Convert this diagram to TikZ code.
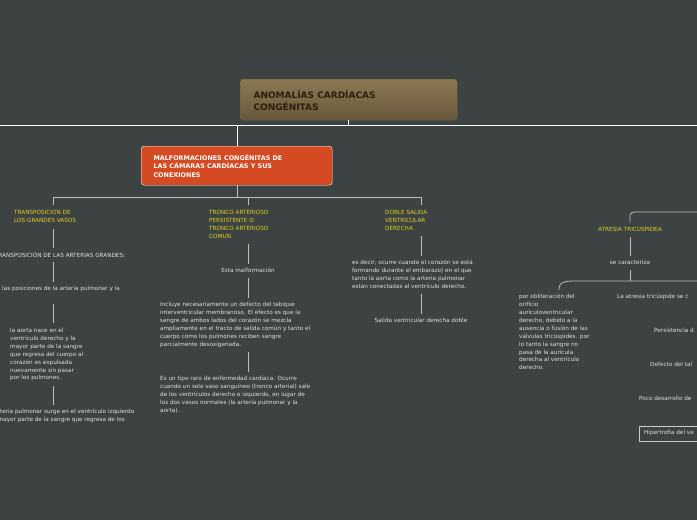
\documentclass[tikz,border=0pt]{standalone}
\usepackage{fontspec}
\setmainfont{DejaVu Sans}
\begin{document}
\begin{tikzpicture}[x=1pt,y=-1pt,
 t/.style={font=\fontsize{5.7}{7.9}\selectfont,text=white!88!black,inner sep=0,align=left,anchor=north west},
 ylab/.style={t,text={rgb,255:red,222;green,210;blue,30}},
 ln/.style={draw=white!75!black,line width=0.8pt}]
\definecolor{bg}{RGB}{61,66,67}
\clip (0,0) rectangle (697,520);
\fill[bg] (0,0) rectangle (697,520);
\node[draw={rgb,255:red,110;green,95;blue,65},rounded corners=3pt,top color={rgb,255:red,140;green,120;blue,82},bottom color={rgb,255:red,104;green,88;blue,60},minimum width=217pt,minimum height=41pt,anchor=north west,inner sep=0] (title) at (240,79) {};
\node[anchor=west,align=left,font=\bfseries\fontsize{9}{12}\selectfont,text={rgb,255:red,45;green,30;blue,10}] at (250,100) {ANOMALÍAS CARDÍACAS\\CONGÉNITAS};
\draw[white,line width=1pt] (0,125) -- (697,125);
\draw[white,line width=1pt] (348,120) -- (348,125);
\node[draw=white,rounded corners=3pt,fill={rgb,255:red,212;green,75;blue,35},minimum width=191pt,minimum height=39pt,anchor=north west,inner sep=0] (malf) at (141,146) {};
\node[anchor=west,align=left,font=\bfseries\fontsize{6.4}{8.3}\selectfont,text=white] at (150,166) {MALFORMACIONES CONGÉNITAS DE\\LAS CÁMARAS CARDÍACAS Y SUS\\CONEXIONES};
\draw[white,line width=1pt] (237,125) -- (237,146);
\draw[ln] (237,185) -- (237,197);
\draw[ln] (53,205) -- (53,197) -- (421,197) -- (421,205);
\draw[ln] (248,197) -- (248,205);
\node[ylab] (tgv) at (14,210) {TRANSPOSICION DE\\LOS GRANDES VASOS};
\node[ylab] (ta) at (209,210) {TRONCO ARTERIOSO\\PERSISTENTE O\\TRONCO ARTERIOSO\\COMUN};
\node[ylab] (dsv) at (385,210) {DOBLE SALIDA\\VENTRICULAR\\DERECHA};
\node[ylab,anchor=north] (at) at (630,226) {ATRESIA TRICÚSPIDEA};
\draw[ln] (53,229) -- (53,248);
\node[t,anchor=north] at (60,252) {TRANSPOSICIÓN DE LAS ARTERIAS GRANDES:};
\draw[ln] (53,262) -- (53,282);
\node[t] at (2,286) {las posiciones de la arteria pulmonar y la};
\draw[ln] (53,304) -- (53,323);
\node[t] at (10,328) {la aorta nace en el\\ventrículo derecho y la\\mayor parte de la sangre\\que regresa del cuerpo al\\corazón es expulsada\\nuevamente sin pasar\\por los pulmones.};
\draw[ln] (53,386) -- (53,405);
\node[t,anchor=north] at (60,409) {La arteria pulmonar surge en el ventrículo izquierdo\\y la mayor parte de la sangre que regresa de los};
\draw[ln] (248,244) -- (248,264);
\node[t,anchor=north] at (248,268) {Esta malformación};
\draw[ln] (248,278) -- (248,298);
\node[t] at (160,302) {Incluye necesariamente un defecto del tabique\\interventricular membranoso. El efecto es que la\\sangre de ambos lados del corazón se mezcla\\ampliamente en el tracto de salida común y tanto el\\cuerpo como los pulmones reciben sangre\\parcialmente desoxigenada.};
\draw[ln] (248,352) -- (248,372);
\node[t] at (160,376) {Es un tipo raro de enfermedad cardíaca. Ocurre\\cuando un solo vaso sanguíneo (tronco arterial) sale\\de los ventrículos derecho e izquierdo, en lugar de\\los dos vasos normales (la arteria pulmonar y la\\aorta).};
\draw[ln] (421,236) -- (421,256);
\node[t] at (352,260) {es decir, ocurre cuando el corazón se está\\formando durante el embarazo) en el que\\tanto la aorta como la arteria pulmonar\\están conectadas al ventrículo derecho.};
\draw[ln] (421,294) -- (421,314);
\node[t,anchor=north] at (421,318) {Salida ventricular derecha doble};
\draw[ln] (630,222) -- (630,215) to[out=90,in=180] (635,212) -- (697,212);
\draw[ln] (630,237) -- (630,256);
\node[t,anchor=north] at (630,260) {se caracteriza};
\draw[ln] (630,270) -- (630,281);
\draw[ln] (559,290) -- (559,288) to[out=90,in=180] (572,281) -- (697,281);
\node[t] at (519,294) {por obliteración del\\orificio\\auriculoventricular\\derecho, debido a la\\ausencia o fusión de las\\válvulas tricúspides. por\\lo tanto la sangre no\\pasa de la aurícula\\derecha al ventrículo\\derecho.};
\node[t] at (617,294) {La atresia tricúspide se c};
\node[t] at (654,328) {Persistencia d};
\node[t] at (650,362) {Defecto del tal};
\node[t] at (639,396) {Poco desarrollo de};
\draw[white!80!black,line width=0.7pt] (639,441) rectangle (700,426);
\node[t] at (644,430) {Hipertrofia del ve};
\end{tikzpicture}
\end{document}
